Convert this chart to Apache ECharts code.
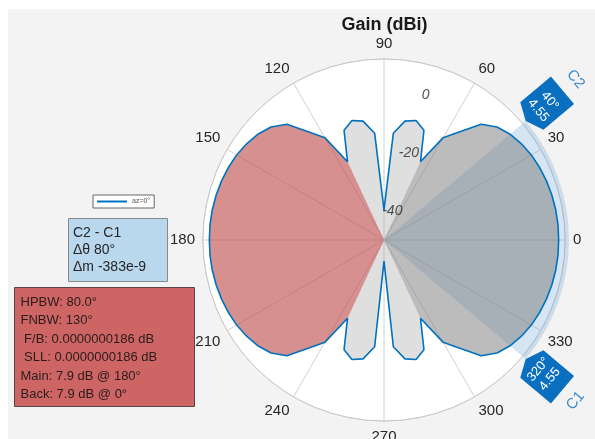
<!DOCTYPE html>
<html><head><meta charset="utf-8">
<script src="https://cdn.jsdelivr.net/npm/echarts@6/dist/echarts.min.js"></script>
<style>
html,body{margin:0;padding:0;background:#fff;width:595px;height:439px;overflow:hidden}
#chart{position:absolute;left:8px;top:9px;width:587px;height:430px}
</style>
</head><body><div id="chart"></div>
<script>
// ---- data ----
const angles = [0,5,10,15,20,25,30,35,40,45,50,55,60,65,70,75,80,85,
  90,95,100,105,110,115,120,125,130,135,140,145,150,155,160,165,170,175,
  180,185,190,195,200,205,210,215,220,225,230,235,240,245,250,255,260,265,
  270,275,280,285,290,295,300,305,310,315,320,325,330,335,340,345,350,355];
const gainDb = [7.9,7.9,7.8,7.6,7.3,6.9,6.4,5.6,4.55,3.0,0.1,-6.2,-10.9,-21.4,-11.3,-9.0,-10.0,-14.5,
  -40.0,-14.5,-10.0,-9.0,-11.3,-21.4,-10.9,-6.2,0.1,3.0,4.55,5.6,6.4,6.9,7.3,7.6,7.8,7.9,
  7.9,7.9,7.8,7.6,7.3,6.9,6.4,5.6,4.55,3.0,0.1,-6.2,-10.9,-21.4,-11.3,-9.0,-10.0,-14.5,
  -43.0,-14.5,-10.0,-9.0,-11.3,-21.4,-10.9,-6.2,0.1,3.0,4.55,5.6,6.4,6.9,7.3,7.6,7.8,7.9];
const ringTicks = [-40, -20, 0];
const mainLobeRange = [115, 245];   // FNBW region around 180
const backLobeRange = [-65, 65];    // back lobe around 0
const cursorNames = ['C1', 'C2'];
const cursorAngles = [320, 40];
const cursorGains = [4.55, 4.55];
const seriesName = 'az=0°';
const titleText = 'Gain (dBi)';
const deltaLines = ['C2 - C1', 'Δθ 80°', 'Δm -383e-9'];
const metricLines = ['HPBW: 80.0°', 'FNBW: 130°', ' F/B: 0.0000000186 dB', ' SLL: 0.0000000186 dB', 'Main: 7.9 dB @ 180°', 'Back: 7.9 dB @ 0°'];

// ---- layout / style ----
const FONT = '"Liberation Sans", Arial, Helvetica, sans-serif';
const rMin = -50, rMax = 10;
const CX = 376, CY = 231, R_PX = 181;
const pxPerUnit = R_PX / (rMax - rMin);
const markerR = rMax + (209 - R_PX) / pxPerUnit;
const nameR = rMax + (250 - R_PX) / pxPerUnit;

const pts = angles.map((a, i) => [gainDb[i], a]);
const closed = pts.concat([[gainDb[0], 360]]);
const mainPts = pts.filter(p => p[1] >= mainLobeRange[0] && p[1] <= mainLobeRange[1]);
const backPts = angles.map((a, i) => [gainDb[i], a > 180 ? a - 360 : a])
  .filter(p => p[1] >= backLobeRange[0] && p[1] <= backLobeRange[1])
  .sort((p, q) => p[1] - q[1]);
const textRot = a => (a < 180 ? a - 90 : a - 270);

const chart = echarts.init(document.getElementById('chart'), null, {renderer: 'canvas'});
const transparent = 'rgba(0,0,0,0)';
const gridCol = '#d2d2d2';

const graphics = [
  {type: 'text', x: CX + 0.5, y: 16, style: {text: titleText, font: 'bold 18px ' + FONT, fill: '#1a1a1a', align: 'center', verticalAlign: 'middle', textAlign: 'center', textVerticalAlign: 'middle'}},
  {type: 'rect', shape: {x: 60.5, y: 209.5, width: 99, height: 63}, style: {fill: '#b9d8ee', stroke: '#8a8a8a', lineWidth: 1}},
  {type: 'rect', shape: {x: 6.5, y: 278.5, width: 180, height: 119}, style: {fill: '#cd6565', stroke: '#5a4545', lineWidth: 1}}
];
deltaLines.forEach((t, i) => graphics.push({type: 'text', x: 65, y: 224 + i * 17,
  style: {text: t, font: '14px ' + FONT, fill: '#262626', align: 'left', verticalAlign: 'middle', textAlign: 'left', textVerticalAlign: 'middle'}}));
metricLines.forEach((t, i) => graphics.push({type: 'text', x: 12.5, y: 293 + i * 18.5,
  style: {text: t, font: '13px ' + FONT, fill: '#2a1a1a', align: 'left', verticalAlign: 'middle', textAlign: 'left', textVerticalAlign: 'middle'}}));

const option = {
  animation: false,
  backgroundColor: '#f3f3f3',
  textStyle: {fontFamily: FONT},
  legend: {
    data: [{name: seriesName, icon: 'rect'}], left: 85, top: 186, padding: [3, 4], itemWidth: 30, itemHeight: 2, itemGap: 4,
    backgroundColor: '#fff', borderColor: '#666', borderWidth: 1, borderRadius: 0, selectedMode: false,
    textStyle: {fontSize: 7, color: '#555', fontFamily: FONT, lineHeight: 7}
  },
  polar: {center: [CX, CY], radius: R_PX},
  angleAxis: {
    type: 'value', min: 0, max: 360, interval: 30, startAngle: 0, clockwise: false,
    axisLine: {show: true, lineStyle: {color: '#c6c6c6', width: 1}},
    axisTick: {show: false},
    axisLabel: {show: true, color: '#262626', fontSize: 15, fontFamily: FONT, margin: 8,
      formatter: v => (v === 360 ? '' : String(v))},
    splitLine: {show: true, lineStyle: {color: gridCol, width: 1}}
  },
  radiusAxis: {
    type: 'value', min: rMin, max: rMax, interval: 10,
    axisLine: {show: false}, axisTick: {show: false}, axisLabel: {show: false},
    splitLine: {show: true, lineStyle: {width: 1,
      color: [transparent, gridCol, transparent, gridCol, transparent, gridCol, '#c6c6c6']}},
    splitArea: {show: true, areaStyle: {color: ['#ffffff']}}
  },
  graphic: graphics,
  series: [
    {type: 'line', name: 'fill', coordinateSystem: 'polar', data: closed, symbol: 'none', silent: true,
      lineStyle: {width: 0, opacity: 0}, areaStyle: {color: 'rgba(150,150,150,0.3)', origin: 'start', opacity: 1}},
    {type: 'line', name: 'main', coordinateSystem: 'polar', data: mainPts, symbol: 'none', silent: true,
      lineStyle: {width: 0, opacity: 0}, areaStyle: {color: 'rgba(205,55,55,0.47)', origin: 'start', opacity: 1}},
    {type: 'line', name: 'back', coordinateSystem: 'polar', data: backPts, symbol: 'none', silent: true,
      lineStyle: {width: 0, opacity: 0}, areaStyle: {color: 'rgba(110,110,110,0.3)', origin: 'start', opacity: 1}},
    {type: 'custom', name: 'span', coordinateSystem: 'polar', silent: true,
      data: [[rMax, cursorAngles[0] - 360, cursorAngles[1]]],
      renderItem: function (params, api) {
        const c = api.coord([rMin, 0]);
        const e = api.coord([api.value(0), 0]);
        const r = Math.hypot(e[0] - c[0], e[1] - c[1]) + 4;
        const a1 = api.value(1), a2 = api.value(2);
        return {type: 'sector', shape: {cx: c[0], cy: c[1], r0: 0, r: r,
          startAngle: -a2 * Math.PI / 180, endAngle: -a1 * Math.PI / 180, clockwise: true},
          style: {fill: 'rgba(100,160,215,0.27)'}};
      }},
    {type: 'line', name: seriesName, coordinateSystem: 'polar', data: closed, symbol: 'none',
      lineStyle: {color: '#0072bd', width: 1.6}, itemStyle: {color: '#0072bd'}, z: 3},
    {type: 'scatter', name: 'rings', coordinateSystem: 'polar', silent: true, symbolSize: 0,
      data: ringTicks.map(v => [v, 74]),
      label: {show: true, position: 'inside', formatter: p => String(p.value[0]), color: '#262626',
        fontSize: 14, fontStyle: 'italic', fontFamily: FONT}, z: 4},
    {type: 'scatter', name: 'cursors', coordinateSystem: 'polar', silent: true, clip: false,
      symbol: 'path://M0,0L36,0L36,40L18,48L0,40Z', symbolSize: [36, 48],
      itemStyle: {color: '#0b6fc0', opacity: 1},
      data: cursorAngles.map((a, i) => ({value: [markerR, a], symbolRotate: a - 90,
        label: {rotate: textRot(a)}, name: cursorNames[i]})),
      label: {show: true, position: 'inside', color: '#fff', fontSize: 13, lineHeight: 15, fontFamily: FONT,
        formatter: p => p.value[1] + '°\n' + cursorGains[p.dataIndex]}, z: 5},
    {type: 'scatter', name: 'cursorNames', coordinateSystem: 'polar', silent: true, clip: false, symbolSize: 0,
      data: cursorAngles.map((a, i) => ({value: [nameR, a], name: cursorNames[i], label: {rotate: textRot(a)}})),
      label: {show: true, position: 'inside', color: '#0b6fc0', fontSize: 15, fontFamily: FONT,
        formatter: p => p.name}, z: 5}
  ]
};
chart.setOption(option);
</script>
</body></html>
